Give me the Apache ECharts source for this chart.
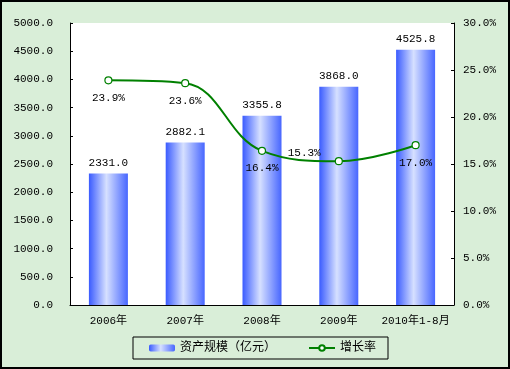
<!DOCTYPE html>
<html><head><meta charset="utf-8">
<script src="https://cdn.jsdelivr.net/npm/echarts@6/dist/echarts.min.js"></script>
<style>html,body{margin:0;padding:0;background:#fff}#c{width:510px;height:369px}</style>
</head><body><div id="c"></div>
<script>
const categories = ['2006年','2007年','2008年','2009年','2010年1-8月'];
const assetValues = [2331.0, 2882.1, 3355.8, 3868.0, 4525.8];
const growthRates = [23.9, 23.6, 16.4, 15.3, 17.0];
const leftTicks = [0, 500, 1000, 1500, 2000, 2500, 3000, 3500, 4000, 4500, 5000];
const rightTicks = [0, 5, 10, 15, 20, 25, 30];

const FONT = "'Liberation Mono','Noto Sans CJK SC',monospace";
const chart = echarts.init(document.getElementById('c'), null, {renderer:'canvas'});
const barGrad = new echarts.graphic.LinearGradient(0,0,1,0,[
  {offset:0,color:'#3a5bff'},{offset:0.45,color:'#d6e0ff'},{offset:1,color:'#4766ff'}]);
chart.setOption({
  animation:false,
  backgroundColor:'#d9eed8',
  textStyle:{fontFamily:FONT,fontSize:11,color:'#000'},
  graphic:[{type:'rect',shape:{x:1,y:1,width:508,height:367},style:{fill:null,stroke:'#000',lineWidth:2},z:100}],
  grid:{left:70,right:56,top:23,bottom:64,show:true,backgroundColor:'#fff',borderWidth:0},
  legend:{
    top:337,left:133,
    backgroundColor:'#d9eed8',borderColor:'#000',borderWidth:1,padding:[5,12,5,16],
    itemGap:32,itemWidth:26,itemHeight:7,
    textStyle:{fontFamily:FONT,fontSize:12,color:'#000'},
    data:[{name:'资产规模（亿元）'},{name:'增长率'}]
  },
  xAxis:{
    type:'category',data:categories,
    axisLine:{lineStyle:{color:'#000',width:1}},
    axisTick:{inside:true,length:3,lineStyle:{color:'#000'}},
    axisLabel:{interval:0,color:'#000',fontFamily:FONT,fontSize:11,margin:11}
  },
  yAxis:[{
    type:'value',min:0,max:5000,interval:500,
    axisLine:{show:true,lineStyle:{color:'#000'}},
    axisTick:{show:true,inside:true,length:3,lineStyle:{color:'#000'}},
    splitLine:{show:false},
    axisLabel:{color:'#000',fontFamily:FONT,fontSize:11,margin:17,formatter:v=>v.toFixed(1)}
  },{
    type:'value',min:0,max:30,interval:5,
    axisLine:{show:true,lineStyle:{color:'#000'}},
    axisTick:{show:true,inside:true,length:3,lineStyle:{color:'#000'}},
    splitLine:{show:false},
    axisLabel:{color:'#000',fontFamily:FONT,fontSize:11,margin:9,formatter:v=>v.toFixed(1)+'%'}
  }],
  series:[{
    name:'资产规模（亿元）',type:'bar',data:assetValues,barWidth:39,
    itemStyle:{color:barGrad},
    label:{show:true,position:'top',distance:5,color:'#000',fontFamily:FONT,fontSize:11,formatter:p=>p.value.toFixed(1)}
  },{
    name:'增长率',type:'line',yAxisIndex:1,smooth:0.4,
    data:growthRates.map((v,i)=> i===3 ? {value:v,label:{position:'left',distance:14,offset:[0,-8]}} : v),
    symbol:'circle',symbolSize:7,
    lineStyle:{color:'#008000',width:2},
    itemStyle:{color:'#fff',borderColor:'#008000',borderWidth:1.2},
    label:{show:true,position:'bottom',distance:8,color:'#000',fontFamily:FONT,fontSize:11,formatter:p=>p.value.toFixed(1)+'%'}
  }]
});
</script></body></html>
